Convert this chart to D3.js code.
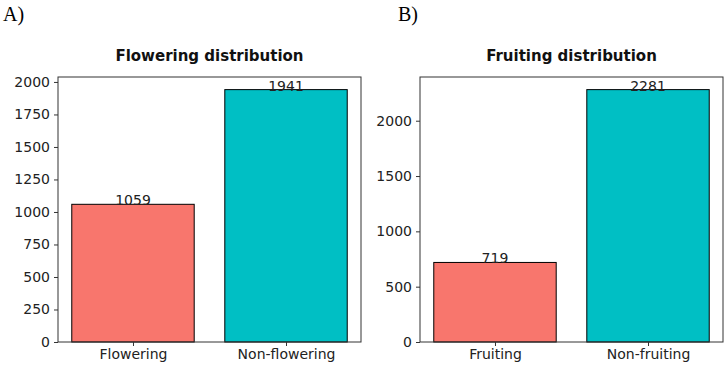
<!DOCTYPE html>
<html><head><meta charset="utf-8">
<script src="https://cdn.jsdelivr.net/npm/d3@7"></script>
<style>body{margin:0;background:#fff}svg{display:block}</style>
</head><body>
<svg id="c" width="726" height="367"></svg>
<script>
const flowerCats = ["Flowering", "Non-flowering"];
const flowerVals = [1059, 1941];
const flowerTicks = [0, 250, 500, 750, 1000, 1250, 1500, 1750, 2000];
const fruitCats = ["Fruiting", "Non-fruiting"];
const fruitVals = [719, 2281];
const fruitTicks = [0, 500, 1000, 1500, 2000];
const titles = ["Flowering distribution", "Fruiting distribution"];
const panelLabels = ["A)", "B)"];
const colors = ["#F8766D", "#00BFC4"];

(function () {
const svg = d3.select("#c");
const panels = [
  {cats: flowerCats, vals: flowerVals, ticks: flowerTicks, title: titles[0], tag: panelLabels[0], x0: 58, x1: 361, tagX: 3},
  {cats: fruitCats, vals: fruitVals, ticks: fruitTicks, title: titles[1], tag: panelLabels[1], x0: 420, x1: 723, tagX: 398}
];
const plotTop = 77, plotBottom = 342;
const font = "'DejaVu Sans', sans-serif";

panels.forEach(p => {
  const g = svg.append("g");
  const x = d3.scaleLinear().domain([-0.49, 1.49]).range([p.x0, p.x1]);
  const y = d3.scaleLinear().domain([0, d3.max(p.vals) * 1.05]).range([plotBottom, plotTop]);
  g.selectAll("rect.bar").data(p.vals).enter().append("rect")
    .attr("x", (d, i) => x(i - 0.4))
    .attr("width", (d, i) => x(i + 0.4) - x(i - 0.4))
    .attr("y", d => y(d))
    .attr("height", d => y(0) - y(d))
    .attr("fill", (d, i) => colors[i])
    .attr("stroke", "#000").attr("stroke-width", 1);
  g.selectAll("text.val").data(p.vals).enter().append("text")
    .attr("x", (d, i) => x(i))
    .attr("y", d => y(d) + 1)
    .attr("text-anchor", "middle")
    .attr("font-family", font).attr("font-size", 14).attr("fill", "#222")
    .text(d => d);
  g.append("rect").attr("x", p.x0).attr("y", plotTop).attr("width", p.x1 - p.x0).attr("height", plotBottom - plotTop)
    .attr("fill", "none").attr("stroke", "#333").attr("stroke-width", 1);
  const ya = g.append("g").attr("transform", `translate(${p.x0},0)`)
    .call(d3.axisLeft(y).tickValues(p.ticks).tickSize(4).tickPadding(4).tickFormat(d3.format("d")));
  ya.select(".domain").remove();
  ya.selectAll("line").attr("stroke", "#333");
  ya.selectAll("text").attr("font-family", font).attr("font-size", 14).attr("fill", "#222");
  const xa = g.append("g").attr("transform", `translate(0,${plotBottom})`)
    .call(d3.axisBottom(x).tickValues([0, 1]).tickSize(4).tickPadding(3).tickFormat(i => p.cats[i]));
  xa.select(".domain").remove();
  xa.selectAll("line").attr("stroke", "#333");
  xa.selectAll("text").attr("font-family", font).attr("font-size", 14).attr("fill", "#222");
  g.append("text").attr("x", (p.x0 + p.x1) / 2).attr("y", 61).attr("text-anchor", "middle")
    .attr("font-family", font).attr("font-weight", "bold").attr("font-size", 15).attr("fill", "#111")
    .text(p.title);
  g.append("text").attr("x", p.tagX).attr("y", 21)
    .attr("font-family", "'Liberation Serif', serif").attr("font-size", 20).attr("fill", "#000")
    .text(p.tag);
});
})();
</script>
</body></html>
